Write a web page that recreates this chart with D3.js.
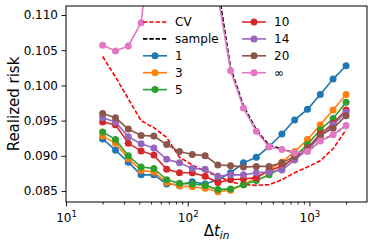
<!DOCTYPE html>
<head>
    <title>Realized risk</title>
    <script src="https://cdnjs.cloudflare.com/ajax/libs/d3/7.8.5/d3.min.js"></script>
    <style>
    body { margin:0; background:white; }
    text { font-family:'DejaVu Sans', sans-serif; fill:black; }
    </style>
</head>
<body>
<div id='chart'></div>
<script>
// x grid (log spaced from 20 to 2000)
var dt = [20, 25.5, 32.5, 41.4, 52.7, 67.2, 85.6, 109, 139, 177, 225, 287, 366, 466, 594, 756, 964, 1228, 1565, 2000];

var cv     = [0.1041, 0.1012, 0.0981, 0.0950, 0.0940, 0.0926, 0.0898, 0.0887, 0.0878, 0.0871, 0.0863, 0.0859, 0.0858, 0.0859, 0.0866, 0.0876, 0.0884, 0.0893, 0.0910, 0.0937];
var sample = [null, null, null, null, null, null, null, 0.1380, 0.1250, 0.1140, 0.1025, 0.0971, 0.0937, 0.0915, 0.0910, 0.0904, 0.0906, 0.0921, 0.0930, 0.0943];
var s1     = [0.0924, 0.0908, 0.0891, 0.0873, 0.0873, 0.0860, 0.0859, 0.0863, 0.0860, 0.0866, 0.0876, 0.0890, 0.0898, 0.0913, 0.0931, 0.0951, 0.0966, 0.0987, 0.1009, 0.1028];
var s3     = [0.0928, 0.0918, 0.0896, 0.0879, 0.0877, 0.0862, 0.0857, 0.0856, 0.0854, 0.0849, 0.0851, 0.0859, 0.0869, 0.0880, 0.0891, 0.0906, 0.0923, 0.0944, 0.0965, 0.0987];
var s5     = [0.0934, 0.0923, 0.0900, 0.0884, 0.0882, 0.0866, 0.0861, 0.0860, 0.0858, 0.0852, 0.0853, 0.0859, 0.0865, 0.0873, 0.0883, 0.0899, 0.0916, 0.0937, 0.0953, 0.0976];
var s10    = [0.0948, 0.0944, 0.0918, 0.0907, 0.0901, 0.0881, 0.0876, 0.0876, 0.0871, 0.0862, 0.0866, 0.0867, 0.0869, 0.0879, 0.0885, 0.0897, 0.0911, 0.0931, 0.0946, 0.0965];
var s14    = [0.0954, 0.0948, 0.0927, 0.0917, 0.0911, 0.0895, 0.0890, 0.0882, 0.0881, 0.0871, 0.0873, 0.0873, 0.0876, 0.0877, 0.0880, 0.0894, 0.0909, 0.0927, 0.0944, 0.0962];
var s20    = [0.0960, 0.0954, 0.0938, 0.0929, 0.0928, 0.0916, 0.0906, 0.0902, 0.0900, 0.0887, 0.0886, 0.0884, 0.0885, 0.0885, 0.0890, 0.0899, 0.0911, 0.0929, 0.0939, 0.0957];
var sInf   = [0.1057, 0.1049, 0.1056, 0.1089, 0.1240, 0.1350, 0.1400, 0.1350, 0.1250, 0.1127, 0.1021, 0.0968, 0.0935, 0.0913, 0.0909, 0.0904, 0.0906, 0.0921, 0.0930, 0.0943];

var yTicks = [0.085, 0.090, 0.095, 0.100, 0.105, 0.110];
var xTicks = [10, 100, 1000];
var xTickExp = ['1', '2', '3'];

var series = [
    {name:'CV', values:cv, color:'#ff0000', dash:'4.4,1.9', marker:false},
    {name:'sample', values:sample, color:'#000000', dash:'4.4,1.9', marker:false},
    {name:'1', values:s1, color:'#1f77b4', marker:true},
    {name:'3', values:s3, color:'#ff7f0e', marker:true},
    {name:'5', values:s5, color:'#2ca02c', marker:true},
    {name:'10', values:s10, color:'#d62728', marker:true},
    {name:'14', values:s14, color:'#9467bd', marker:true},
    {name:'20', values:s20, color:'#8c564b', marker:true},
    {name:'\u221e', values:sInf, color:'#e377c2', marker:true}
];

var W = 374, H = 245;
var mLeft = 66, mRight = 367, mTop = 6, mBottom = 202;

var svg = d3.select('#chart').append('svg')
    .attr('width', W).attr('height', H);

var x = d3.scaleLog().domain([10, 2972]).range([mLeft, mRight]);
var y = d3.scaleLinear().domain([0.08344, 0.11128]).range([mBottom, mTop]);

svg.append('clipPath').attr('id', 'clip')
    .append('rect').attr('x', mLeft).attr('y', mTop)
    .attr('width', mRight - mLeft).attr('height', mBottom - mTop);

var plot = svg.append('g').attr('clip-path', 'url(#clip)');

var line = d3.line()
    .defined(function(d) { return d[1] !== null; })
    .x(function(d) { return x(d[0]); })
    .y(function(d) { return y(d[1]); });

series.forEach(function(s) {
    var pts = dt.map(function(t, i) { return [t, s.values[i]]; });
    plot.append('path')
        .datum(pts)
        .attr('fill', 'none')
        .attr('stroke', s.color)
        .attr('stroke-width', 1.6)
        .attr('stroke-dasharray', s.dash || null)
        .attr('d', line);
    if (s.marker) {
        plot.selectAll(null)
            .data(pts.filter(function(d) { return d[1] !== null; }))
            .enter().append('circle')
            .attr('cx', function(d) { return x(d[0]); })
            .attr('cy', function(d) { return y(d[1]); })
            .attr('r', 3.5)
            .attr('fill', s.color);
    }
});

// axes
var xAxis = d3.axisBottom(x).tickValues(xTicks).tickSize(4.5).tickFormat('');
var gx = svg.append('g').attr('transform', 'translate(0,' + mBottom + ')').call(xAxis);
var minor = [];
[10, 100, 1000].forEach(function(b) {
    for (var k = 2; k <= 9; k++) if (b * k < 2972) minor.push(b * k);
});
svg.append('g').attr('transform', 'translate(0,' + mBottom + ')')
    .call(d3.axisBottom(x).tickValues(minor).tickSize(2.5).tickFormat(''));

gx.selectAll('.tick').each(function(d, i) {
    var t = d3.select(this).append('text')
        .attr('y', 20).attr('text-anchor', 'middle')
        .style('font-size', '12px');
    t.append('tspan').text('10');
    t.append('tspan').attr('dy', -5).style('font-size', '8.5px').text(xTickExp[i]);
});

var gy = svg.append('g').attr('transform', 'translate(' + mLeft + ',0)')
    .call(d3.axisLeft(y).tickValues(yTicks).tickSize(4.5).tickFormat(d3.format('.3f')));
gy.selectAll('text').style('font-size', '12px').attr('x', -8).attr('fill', 'black');

svg.selectAll('.domain').remove();
svg.selectAll('.tick line').attr('stroke', 'black').attr('stroke-width', 0.9);

svg.append('rect')
    .attr('x', mLeft).attr('y', mTop)
    .attr('width', mRight - mLeft).attr('height', mBottom - mTop)
    .attr('fill', 'none').attr('stroke', 'black').attr('stroke-width', 1);

// labels
svg.append('text')
    .attr('transform', 'translate(19,' + ((mTop + mBottom) / 2) + ') rotate(-90)')
    .attr('text-anchor', 'middle')
    .style('font-size', '15px')
    .text('Realized risk');

var xl = svg.append('text')
    .attr('x', (mLeft + mRight) / 2).attr('y', 236)
    .attr('text-anchor', 'middle')
    .style('font-size', '15px');
xl.append('tspan').text('\u0394');
xl.append('tspan').style('font-style', 'italic').text('t');
xl.append('tspan').attr('dy', 3).style('font-style', 'italic').style('font-size', '10.5px').text('in');

// legend, two columns, no frame
var leg = svg.append('g');
series.forEach(function(s, i) {
    var col = i < 5 ? 0 : 1;
    var row = i < 5 ? i : i - 5;
    var lx = col === 0 ? 143 : 242;
    var ly = 22 + row * 16.9;
    leg.append('line')
        .attr('x1', lx).attr('x2', lx + 24)
        .attr('y1', ly).attr('y2', ly)
        .attr('stroke', s.color).attr('stroke-width', 1.6)
        .attr('stroke-dasharray', s.dash || null);
    if (s.marker) {
        leg.append('circle').attr('cx', lx + 12).attr('cy', ly).attr('r', 3.5).attr('fill', s.color);
    }
    leg.append('text')
        .attr('x', lx + 32).attr('y', ly + 4.3)
        .style('font-size', '12px')
        .text(s.name);
});
</script>
</body>
</html>
